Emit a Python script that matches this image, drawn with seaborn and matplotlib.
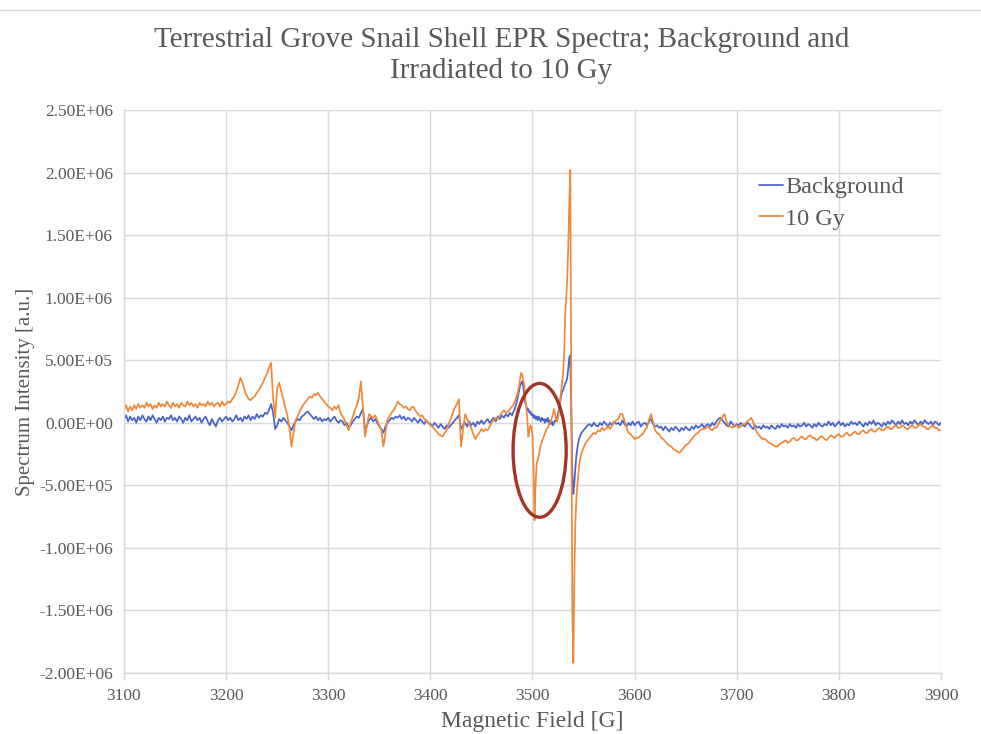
import numpy as np
import pandas as pd
import matplotlib
matplotlib.use("Agg")
import matplotlib.pyplot as plt
from matplotlib.patches import Ellipse
from matplotlib.lines import Line2D
from matplotlib.ticker import FuncFormatter, MultipleLocator
import seaborn as sns

# Magnetic field sampling grid [G]: 2 G steps, 1 G steps across the main line
field = np.concatenate([
    np.arange(3100, 3481, 2),
    np.arange(3481, 3547, 1),
    np.arange(3548, 3901, 2),
])

# Spectrum intensities in units of 1e5 a.u.
background_e5 = [
    # 3100 - 3480 (step 2)
    0.3, 0.6, 0.1, 0.5, 0.2, 0.4, 0.0, 0.5, 0.2, 0.6,
    0.3, 0.1, 0.5, 0.2, 0.6, 0.3, 0.0, 0.4, 0.2, 0.5,
    0.1, 0.4, 0.3, 0.6, 0.2, 0.4, 0.1, 0.5, 0.3, 0.0,
    0.4, 0.2, 0.6, 0.1, 0.3, 0.5, 0.2, 0.4, 0.0, 0.3,
    0.5, 0.1, -0.2, 0.3, 0.0, -0.3, 0.2, 0.4, 0.1, 0.3,
    0.5, 0.2, 0.4, 0.1, 0.3, 0.6, 0.2, 0.4, 0.1, 0.5,
    0.3, 0.6, 0.2, 0.5, 0.3, 0.7, 0.4, 0.6, 0.5, 0.8,
    0.7, 1.0, 1.5, 0.8, -0.5, -0.2, 0.3, 0.1, 0.4, 0.2,
    0.0, -0.3, -0.6, -0.2, 0.1, 0.3, 0.2, 0.5, 0.6, 0.8,
    0.9, 0.7, 0.5, 0.3, 0.5, 0.2, 0.4, 0.1, 0.3, 0.2,
    0.4, 0.1, 0.3, 0.5, 0.2, 0.0, 0.2, 0.1, -0.2, 0.0,
    -0.4, -0.2, 0.1, 0.3, 0.5, 0.4, 0.8, 1.1, -0.6, -0.2,
    0.2, 0.4, 0.1, 0.3, 0.0, -0.3, -0.5, -0.8, -0.3, 0.0,
    0.2, 0.4, 0.3, 0.5, 0.4, 0.6, 0.3, 0.5, 0.2, 0.4,
    0.3, 0.1, 0.4, 0.2, 0.0, 0.3, 0.1, -0.1, 0.2, 0.0,
    -0.1, -0.3, 0.0, -0.2, -0.4, -0.1, -0.3, -0.5, -0.2, -0.4,
    -0.2, 0.0, 0.2, 0.4, 0.6, -0.5, -0.2, 0.0, -0.3, 0.1,
    -0.2, 0.0, -0.3, 0.1, -0.1, 0.2, -0.1, 0.1, 0.3, 0.0,
    0.2, 0.4, 0.1, 0.5, 0.3, 0.6, 0.4, 0.7, 0.5, 0.8,
    0.6,
    # 3481 - 3546 (step 1)
    0.8, 1.0, 1.2, 1.5, 1.8, 2.2, 2.6, 3.0, 3.2, 3.3,
    2.8, 2.2, 1.6, 1.3, 1.0, 1.1, 0.8, 0.9, 0.6, 0.7,
    0.4, 0.6, 0.3, 0.5, 0.2, 0.5, 0.3, 0.1, 0.4, 0.2,
    0.3, 0.0, 0.3, 0.1, 0.4, 0.0, 0.2, -0.1, 0.1, -0.2,
    0.0, 0.2, 0.1, 0.4, 0.7, 1.2, 1.7, 2.1, 2.5, 2.6,
    2.9, 3.1, 3.3, 3.6, 4.3, 5.2, 5.4, 1.0, -4.0, -5.7,
    -4.8, -3.6, -2.6, -2.0, -1.5, -1.2,
    # 3548 - 3900 (step 2)
    -0.8, -0.6, -0.4, -0.2, -0.1, -0.3, 0.0, -0.2, -0.3, 0.0,
    -0.2, 0.1, -0.1, -0.3, 0.0, -0.2, 0.1, -0.1, 0.0, -0.2,
    0.2, -0.1, -0.3, 0.0, -0.2, 0.1, -0.2, 0.0, 0.1, -0.3,
    -0.1, 0.0, -0.2, 0.1, 0.3, -0.1, -0.3, -0.2, -0.4, -0.3,
    -0.6, -0.3, -0.5, -0.7, -0.4, -0.6, -0.3, -0.5, -0.7, -0.4,
    -0.6, -0.3, -0.5, -0.6, -0.3, -0.5, -0.2, -0.4, -0.3, -0.1,
    -0.4, -0.2, -0.1, -0.3, 0.0, -0.2, 0.1, 0.3, 0.4, 0.2,
    0.0, -0.2, -0.3, 0.1, -0.1, -0.3, -0.1, -0.2, 0.0, -0.2,
    -0.3, 0.0, -0.1, -0.3, -0.5, -0.2, -0.4, -0.3, -0.5, -0.2,
    -0.4, -0.3, -0.5, -0.2, -0.4, -0.5, -0.2, -0.4, -0.1, -0.3,
    -0.2, -0.4, -0.1, -0.3, -0.2, -0.4, -0.1, -0.3, -0.2, 0.0,
    -0.3, -0.1, -0.2, -0.4, -0.1, -0.3, 0.0, -0.2, -0.3, -0.1,
    -0.2, 0.1, -0.2, 0.0, -0.3, -0.1, 0.1, -0.2, 0.0, -0.3,
    -0.1, -0.2, 0.1, -0.1, 0.0, -0.2, 0.1, -0.1, -0.3, 0.0,
    -0.2, 0.1, -0.1, 0.2, -0.2, 0.0, -0.1, -0.3, 0.0, -0.2,
    0.1, -0.1, 0.2, 0.0, -0.2, 0.1, -0.1, 0.2, -0.1, 0.0,
    -0.2, 0.1, -0.1, 0.2, 0.0, -0.2, 0.1, -0.1, 0.2, 0.0,
    -0.1, 0.1, -0.2, 0.1, 0.0, -0.2, 0.0,
]

irradiated_e5 = [
    # 3100 - 3480 (step 2)
    1.1, 1.4, 0.9, 1.3, 1.0, 1.4, 1.1, 1.5, 1.2, 1.4,
    1.2, 1.6, 1.3, 1.5, 1.1, 1.4, 1.2, 1.6, 1.3, 1.5,
    1.3, 1.7, 1.4, 1.2, 1.6, 1.3, 1.5, 1.2, 1.6, 1.4,
    1.3, 1.7, 1.4, 1.6, 1.3, 1.5, 1.2, 1.6, 1.4, 1.5,
    1.3, 1.7, 1.4, 1.6, 1.3, 1.5, 1.6, 1.3, 1.7, 1.4,
    1.5, 1.7, 1.6, 1.9, 2.1, 2.5, 3.0, 3.6, 3.2, 2.6,
    2.2, 1.9, 1.8, 2.0, 2.1, 2.4, 2.6, 2.9, 3.2, 3.6,
    3.9, 4.4, 4.8, 2.0, 0.4, 2.8, 3.2, 2.5, 1.9, 1.2,
    0.6, -0.4, -1.9, -0.8, 0.2, 0.5, 0.9, 1.2, 1.5, 1.7,
    1.9, 2.1, 2.0, 2.3, 2.2, 2.4, 2.1, 1.9, 1.7, 1.5,
    1.3, 1.2, 1.0, 1.3, 1.1, 1.4, 0.8, 0.5, 0.2, -0.2,
    -0.6, 0.0, 0.5, 1.0, 1.4, 2.0, 3.3, 1.2, -1.1, -0.2,
    0.7, 0.5, 0.4, 0.6, 0.2, -0.2, -0.6, -1.9, -0.8, 0.3,
    0.5, 0.8, 1.0, 1.3, 1.7, 1.5, 1.4, 1.2, 1.3, 1.1,
    1.0, 1.3, 1.2, 0.9, 0.7, 0.5, 0.6, 0.3, 0.2, 0.0,
    -0.2, -0.3, -0.5, -0.7, -0.9, -1.0, -1.1, -0.8, -0.6, -0.1,
    0.3, 0.8, 1.2, 1.5, 1.9, -1.9, -0.6, 0.7, 0.3, -0.1,
    -0.4, -0.9, -1.3, -1.0, -0.8, -0.5, -0.7, -0.5, -0.6, -0.3,
    0.0, 0.2, 0.4, 0.3, 0.6, 0.8, 1.0, 0.8, 0.9, 1.1,
    1.3,
    # 3481 - 3546 (step 1)
    1.4, 1.6, 1.8, 2.0, 2.2, 2.6, 3.0, 3.6, 4.0, 3.8,
    3.4, 3.0, 2.0, 1.2, 0.2, -1.1, -0.6, -0.2, -0.4, -1.0,
    -3.5, -7.8, -5.0, -3.3, -3.0, -2.7, -2.3, -1.8, -1.6, -1.3,
    -1.1, -0.9, -0.7, -0.5, -0.4, -0.2, 0.0, 0.1, 0.4, 0.7,
    1.1, 0.8, 0.3, 0.1, 0.4, 0.9, 1.8, 2.5, 3.2, 4.0,
    5.5, 8.5, 10.0, 11.5, 14.0, 17.5, 20.2, 2.0, -15.0, -19.2,
    -12.0, -8.0, -6.0, -5.0, -4.0, -3.2,
    # 3548 - 3900 (step 2)
    -2.4, -2.0, -1.6, -1.4, -1.2, -1.0, -0.8, -0.9, -0.6, -0.7,
    -0.4, -0.6, -0.5, -0.3, -0.5, -0.2, 0.0, 0.2, 0.3, 0.7,
    0.7, 0.2, -0.4, -0.8, -0.9, -1.1, -1.3, -1.2, -1.2, -1.0,
    -0.9, -0.6, -0.4, 0.2, 0.7, 0.1, -0.6, -0.8, -0.9, -1.2,
    -1.3, -1.5, -1.7, -1.8, -1.9, -2.1, -2.2, -2.3, -2.4, -2.2,
    -2.0, -1.8, -1.7, -1.5, -1.3, -1.1, -0.9, -0.8, -0.6, -0.5,
    -0.5, -0.4, -0.3, -0.5, -0.6, -0.4, -0.4, -0.1, 0.2, 0.5,
    0.7, 0.1, -0.2, -0.3, -0.4, -0.2, -0.2, -0.4, -0.3, -0.1,
    -0.1, 0.1, 0.2, 0.4, 0.1, -0.5, -0.8, -1.0, -1.2, -1.3,
    -1.3, -1.5, -1.6, -1.7, -1.8, -1.9, -1.9, -1.7, -1.6, -1.5,
    -1.4, -1.6, -1.5, -1.3, -1.2, -1.4, -1.4, -1.2, -1.1, -1.3,
    -1.3, -1.1, -1.0, -1.2, -1.2, -1.4, -1.3, -1.1, -1.1, -1.3,
    -1.4, -1.2, -1.0, -1.1, -1.2, -1.0, -0.9, -1.1, -1.1, -0.9,
    -0.8, -1.0, -1.0, -0.8, -0.7, -0.9, -0.9, -0.7, -0.6, -0.8,
    -0.8, -0.6, -0.5, -0.7, -0.7, -0.5, -0.4, -0.6, -0.6, -0.4,
    -0.3, -0.5, -0.5, -0.3, -0.2, -0.4, -0.4, -0.2, -0.3, -0.5,
    -0.5, -0.3, -0.2, -0.4, -0.4, -0.2, -0.1, -0.3, -0.3, -0.5,
    -0.5, -0.3, -0.2, -0.4, -0.4, -0.6, -0.6,
]

series_names = ["Background", "10 Gy"]
series_colors = ["#4A63C8", "#F0883A"]
x_ticks = list(range(3100, 3901, 100))

df = pd.concat([
    pd.DataFrame({"field": field, "intensity": np.array(background_e5) * 1e5,
                  "series": series_names[0]}),
    pd.DataFrame({"field": field, "intensity": np.array(irradiated_e5) * 1e5,
                  "series": series_names[1]}),
], ignore_index=True)

sns.set_theme(style="white")
plt.rcParams["font.family"] = ["Liberation Serif", "DejaVu Serif"]

text_gray = "#595959"
grid_gray = "#D9D9D9"

fig = plt.figure(figsize=(9.81, 7.34), dpi=100)
ax = fig.add_axes([0.1264, 0.0831, 0.8328, 0.7670])

sns.lineplot(data=df, x="field", y="intensity", hue="series",
             palette=dict(zip(series_names, series_colors)),
             estimator=None, sort=False, linewidth=1.25, ax=ax)

ax.set_xlim(3100, 3900)
ax.set_ylim(-2.0e6, 2.5e6)
ax.set_xticks(x_ticks)
ax.yaxis.set_major_locator(MultipleLocator(5e5))
ax.yaxis.set_major_formatter(FuncFormatter(lambda v, p: f"{v:.2E}"))

ax.grid(True, color=grid_gray, linewidth=1.0)
ax.set_axisbelow(True)
for side in ["top", "right"]:
    ax.spines[side].set_visible(False)
for side in ["left", "bottom"]:
    ax.spines[side].set_color(grid_gray)
    ax.spines[side].set_linewidth(1.0)

ax.tick_params(axis="x", which="major", bottom=True, length=5, width=1,
               color=grid_gray, labelsize=12.5, labelcolor=text_gray, pad=6)
ax.tick_params(axis="y", which="major", left=False, length=0, labelsize=12.5,
               labelcolor=text_gray, pad=8)

ax.set_xlabel("Magnetic Field [G]", fontsize=17, color=text_gray, labelpad=5)
ax.set_ylabel("Spectrum Intensity [a.u.]", fontsize=15, color=text_gray, labelpad=3)

fig.text(0.511, 0.924, "Terrestrial Grove Snail Shell EPR Spectra; Background and\nIrradiated to 10 Gy",
         ha="center", va="center", fontsize=21, color=text_gray, linespacing=1.25)

# Highlight around the radiation-induced feature near 3500 G
ax.add_patch(Ellipse((3507, -2.2e5), width=52, height=1.07e6, angle=0,
                     facecolor="none", edgecolor="#A23524", linewidth=2.4, zorder=5))

leg = ax.legend(loc="upper left", bbox_to_anchor=(0.765, 0.90), frameon=False,
                fontsize=17.5, handlelength=1.0, handletextpad=0.1,
                labelspacing=0.4, borderaxespad=0)
for t in leg.get_texts():
    t.set_color(text_gray)

fig.add_artist(Line2D([0, 1], [0.986, 0.986], color=grid_gray, linewidth=1.0,
                      transform=fig.transFigure))

fig.savefig("out.png", dpi=100)
